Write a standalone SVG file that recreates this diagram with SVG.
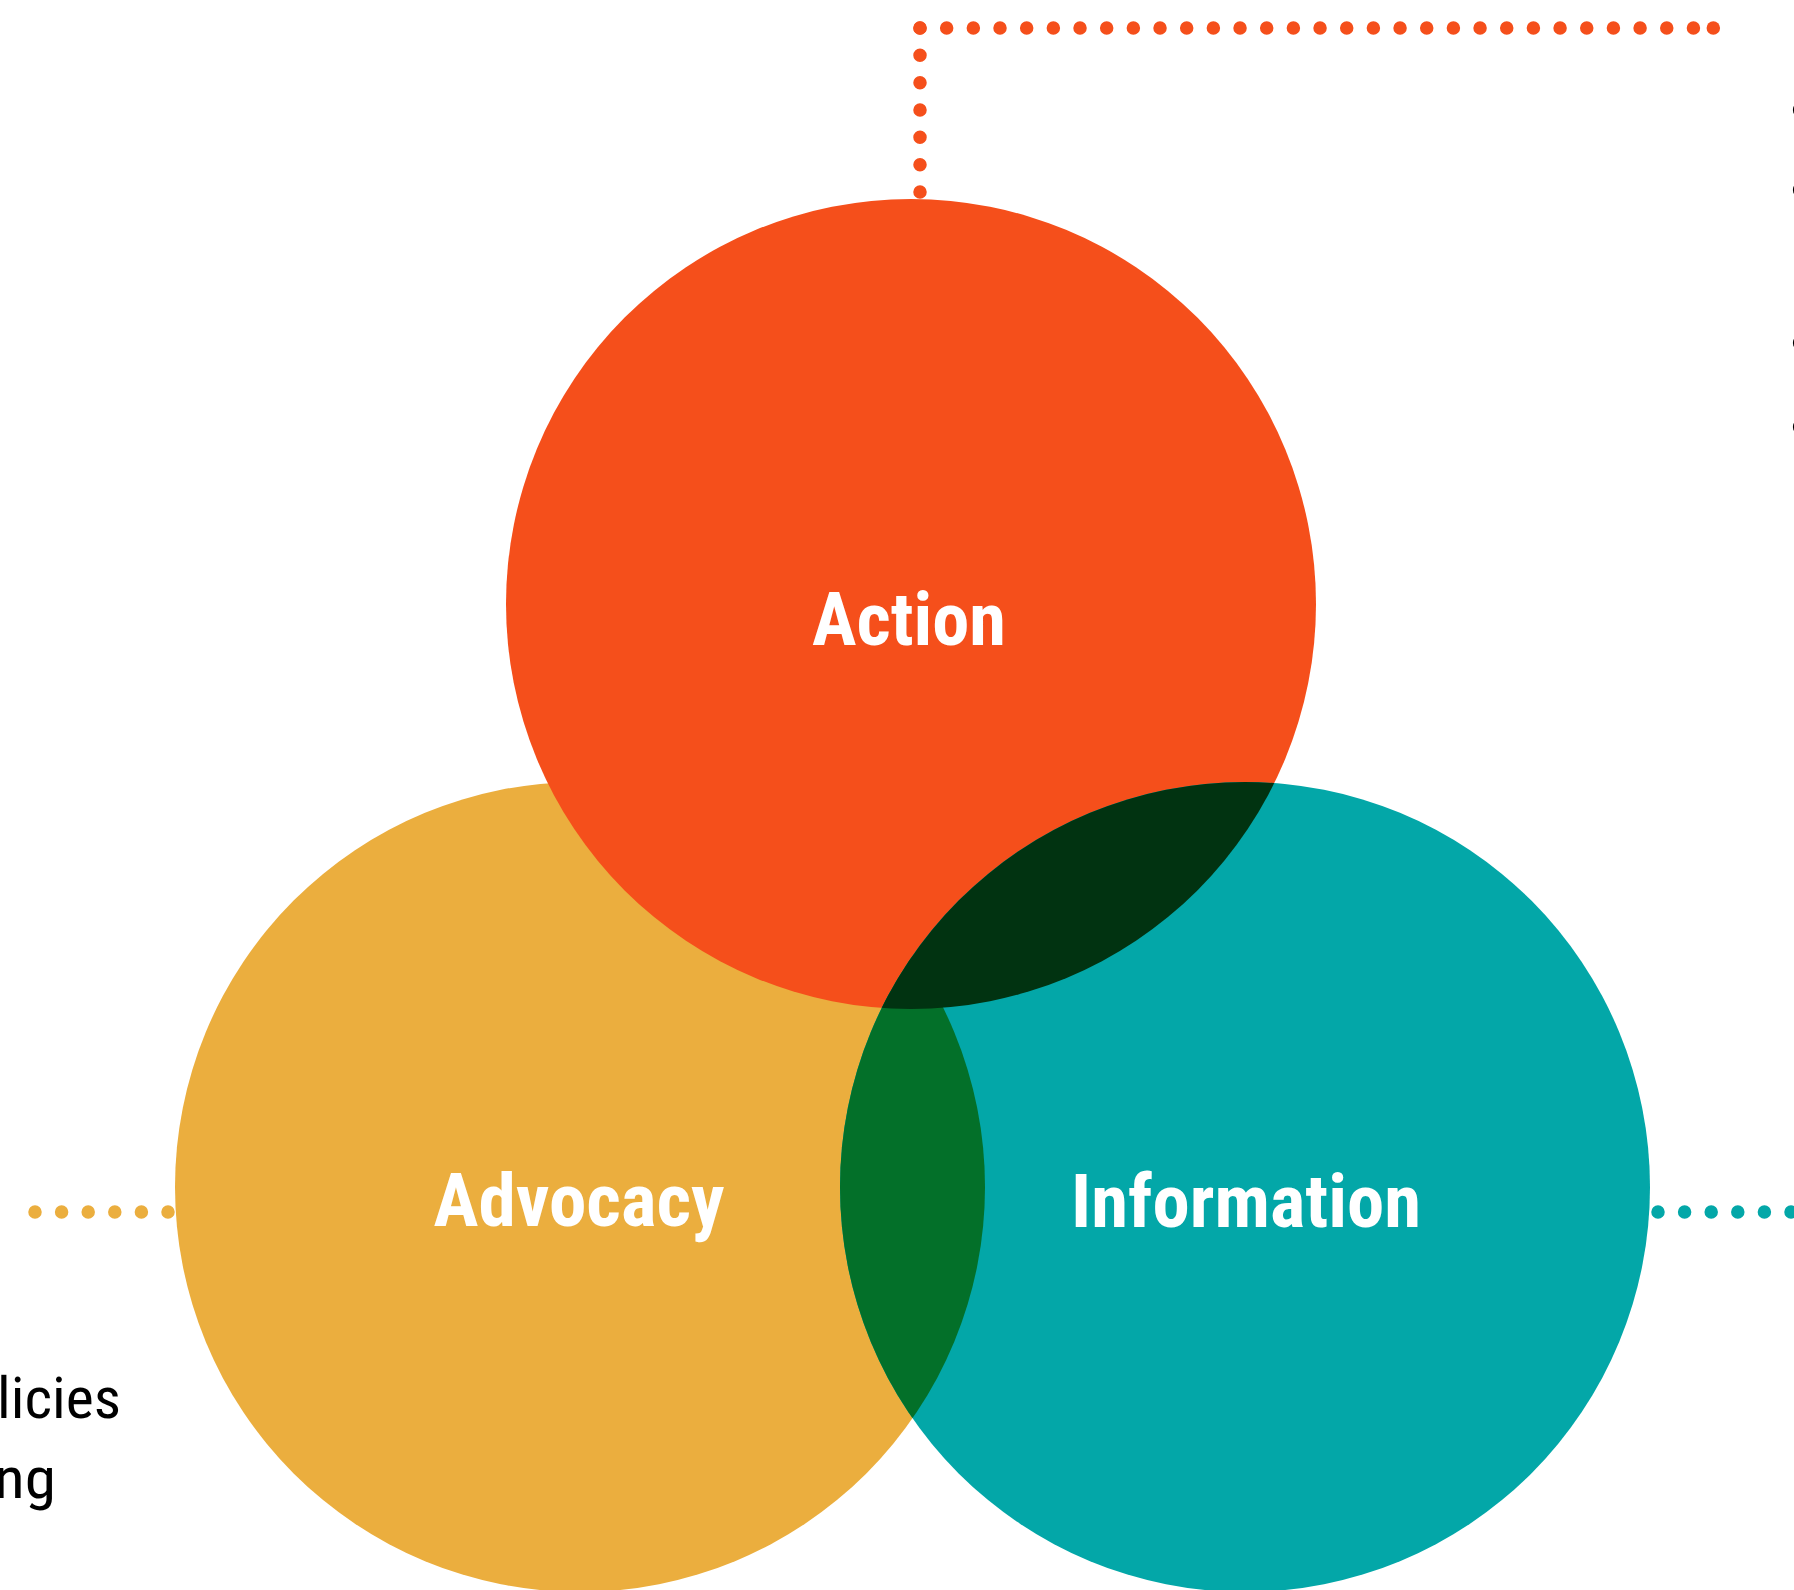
<svg xmlns="http://www.w3.org/2000/svg" width="1794" height="1590" viewBox="0 0 1794 1590">
  <style>
    .dots { fill: none; stroke-linecap: round; stroke-width: 13.5; }
    .label { font-family: "Roboto Condensed", Roboto, "Liberation Sans Narrow", sans-serif; font-weight: bold; font-size: 75px; fill: #ffffff; text-anchor: middle; }
    .body { font-family: "Roboto Condensed", Roboto, "Liberation Sans Narrow", sans-serif; font-size: 58px; fill: #000000; }
  </style>
  <defs>
    <clipPath id="clipAdvocacy"><circle cx="580" cy="1187" r="405"/></clipPath>
    <clipPath id="clipAction"><circle cx="911" cy="604" r="405"/></clipPath>
  </defs>
  <rect width="1794" height="1590" fill="#ffffff"/>

  <g id="connectors">
    <path class="dots" stroke="#F54F1B" stroke-dasharray="0 27.33" d="M920 192 V28"/>
    <path class="dots" stroke="#F54F1B" stroke-dasharray="0 26.67" d="M920 28 H1700"/>
    <path class="dots" stroke="#F54F1B" d="M1713.3 28 h0"/>
    <path class="dots" stroke="#EBAE3E" stroke-dasharray="0 26.6" d="M168 1212 H30"/>
    <path class="dots" stroke="#03A7A8" stroke-dasharray="0 26.6" d="M1658 1212 H1820"/>
  </g>

  <g id="node-advocacy">
    <circle cx="580" cy="1187" r="405" fill="#EBAE3E"/>
  </g>
  <g id="node-action">
    <circle cx="911" cy="604" r="405" fill="#F54F1B"/>
  </g>
  <g id="node-information">
    <circle cx="1245" cy="1187" r="405" fill="#03A7A8"/>
  </g>
  <g id="overlaps">
    <circle cx="1245" cy="1187" r="405" fill="#037029" clip-path="url(#clipAdvocacy)"/>
    <circle cx="1245" cy="1187" r="405" fill="#013311" clip-path="url(#clipAction)"/>
  </g>

  <g id="labels">
    <text class="label" x="909" y="645" textLength="194" lengthAdjust="spacingAndGlyphs">Action</text>
    <text class="label" x="579" y="1226" textLength="291" lengthAdjust="spacingAndGlyphs">Advocacy</text>
    <text class="label" x="1246" y="1227" textLength="350" lengthAdjust="spacingAndGlyphs">Information</text>
  </g>

  <g id="left-text">
    <text class="body" x="-3" y="1418" textLength="124" lengthAdjust="spacingAndGlyphs">licies</text>
    <text class="body" x="-6" y="1498" textLength="62" lengthAdjust="spacingAndGlyphs">ng</text>
  </g>

  <g id="right-list">
    <text class="body" x="1789" y="131">•</text>
    <text class="body" x="1789" y="211">•</text>
    <text class="body" x="1789" y="364">•</text>
    <text class="body" x="1789" y="448">•</text>
  </g>
</svg>
